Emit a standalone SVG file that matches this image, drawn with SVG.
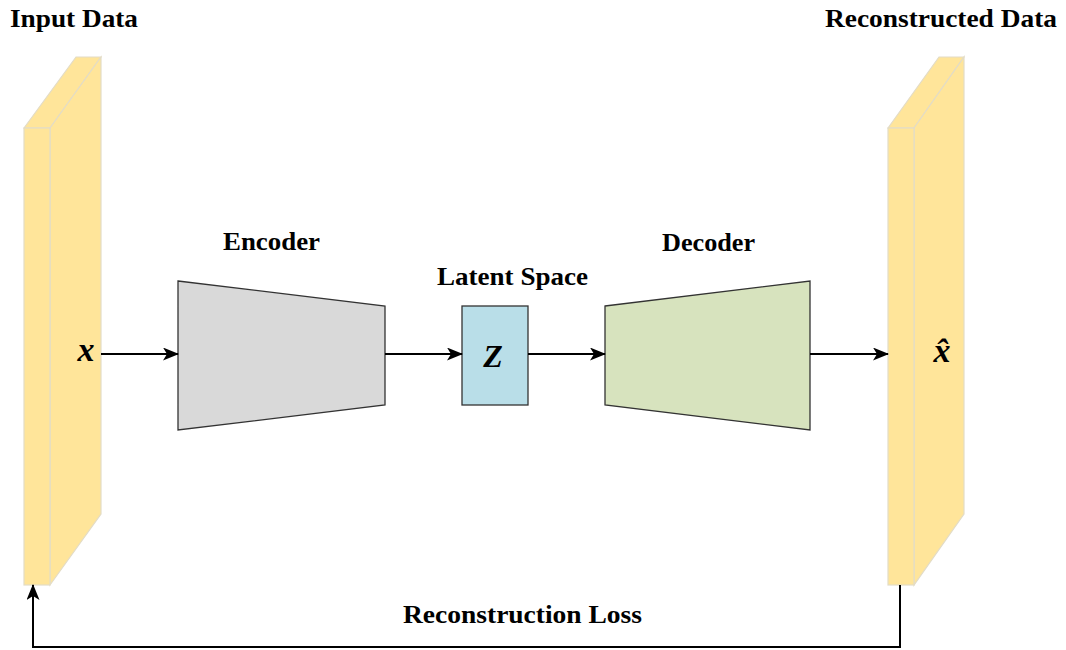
<svg xmlns="http://www.w3.org/2000/svg" width="1066" height="650" viewBox="0 0 1066 650">
<style>
.lbl{font-family:"Liberation Serif","Times New Roman",serif;font-weight:bold;font-size:26px;fill:#000}
.math{font-family:"Liberation Serif","Times New Roman",serif;font-weight:bold;font-style:italic;fill:#000}
.slab{fill:#FFE59A;stroke:#E3DCC6;stroke-width:1.2}
.edge{fill:none;stroke:#000;stroke-width:2}
.shape{stroke:#333;stroke-width:1.3}
</style>
<defs>
<marker id="ah" markerWidth="16" markerHeight="13" refX="15" refY="6.5" orient="auto" markerUnits="userSpaceOnUse">
<path d="M0,0 L16,6.5 L0,13 L4,6.5 Z" fill="#000"/>
</marker>
</defs>
<rect width="1066" height="650" fill="#fff"/>
<g id="input">
<polygon class="slab" points="24,128 76,57 101,57 50,128"/>
<polygon class="slab" points="50,128 101,57 101,514 50,585"/>
<rect class="slab" x="24" y="128" width="26" height="457"/>
<text class="lbl" x="10" y="27" textLength="128" lengthAdjust="spacingAndGlyphs">Input Data</text>
<text class="math" x="86" y="361" font-size="34" text-anchor="middle">x</text>
</g>
<g id="output">
<polygon class="slab" points="888,128 939,57 964,57 914,128"/>
<polygon class="slab" points="914,128 964,57 964,514 914,585"/>
<rect class="slab" x="888" y="128" width="26" height="457"/>
<text class="lbl" x="825" y="27" textLength="232" lengthAdjust="spacingAndGlyphs">Reconstructed Data</text>
<text class="math" x="942" y="362" font-size="34" text-anchor="middle">x&#x302;</text>
</g>
<g id="encoder">
<polygon class="shape" fill="#D9D9D9" points="178,281 385,306 385,405 178,430"/>
<text class="lbl" x="223" y="250" textLength="97" lengthAdjust="spacingAndGlyphs">Encoder</text>
</g>
<g id="latent">
<rect class="shape" fill="#B9DEE8" x="462" y="306" width="66" height="99"/>
<text class="lbl" x="437" y="285" textLength="151" lengthAdjust="spacingAndGlyphs">Latent Space</text>
<text class="math" x="493" y="367" font-size="32" text-anchor="middle">Z</text>
</g>
<g id="decoder">
<polygon class="shape" fill="#D7E3BE" points="605,306 810,281 810,430 605,405"/>
<text class="lbl" x="662" y="251" textLength="93" lengthAdjust="spacingAndGlyphs">Decoder</text>
</g>
<g id="connectors">
<line class="edge" x1="101" y1="354" x2="178" y2="354" marker-end="url(#ah)"/>
<line class="edge" x1="385" y1="354" x2="462" y2="354" marker-end="url(#ah)"/>
<line class="edge" x1="528" y1="354" x2="605" y2="354" marker-end="url(#ah)"/>
<line class="edge" x1="810" y1="354" x2="888" y2="354" marker-end="url(#ah)"/>
<polyline class="edge" points="900,585 900,647 33,647 33,585" marker-end="url(#ah)"/>
<text class="lbl" x="403" y="623" textLength="239" lengthAdjust="spacingAndGlyphs">Reconstruction Loss</text>
</g>
</svg>
